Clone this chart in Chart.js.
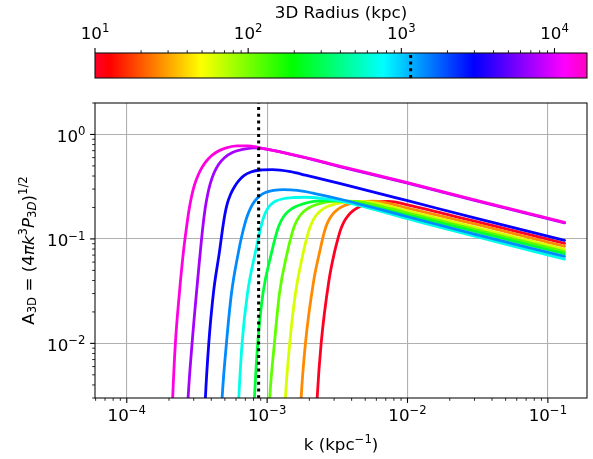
<!DOCTYPE html>
<html>
<head>
<meta charset="utf-8">
<script src="https://cdn.jsdelivr.net/npm/chart.js@4.4.1/dist/chart.umd.min.js"></script>
<style>
  html, body { margin: 0; padding: 0; background: #fff; }
  #wrap { position: relative; width: 593px; height: 459px; }
  #wrap canvas { position: absolute; left: 0; top: 0; }
</style>
</head>
<body>
<div id="wrap">
  <canvas id="spectra" width="593" height="459"></canvas>
  <canvas id="colorbar" width="593" height="100"></canvas>
</div>
<script>
// A_3D(k) for each 3D radius shell, smallest radius (red) to largest (magenta)
const shell1K  = [2.22e-3, 2.272e-3, 2.426e-3, 2.757e-3, 3.04e-3, 3.185e-3, 3.346e-3, 3.526e-3, 3.765e-3, 4.121e-3, 4.624e-3, 5.272e-3, 6.11e-3, 7.32e-3, 0.01, 0.02, 0.03, 0.1315];
const shell1A  = [0.0015, 0.003, 0.01, 0.04, 0.0776, 0.0991, 0.1236, 0.1459, 0.1665, 0.1872, 0.2054, 0.2195, 0.2275, 0.2285, 0.212, 0.169, 0.148, 0.0906];
const shell2K  = [1.708e-3, 1.747e-3, 1.875e-3, 2.148e-3, 2.38e-3, 2.498e-3, 2.624e-3, 2.771e-3, 2.944e-3, 3.17e-3, 3.497e-3, 3.99e-3, 4.7e-3, 5.632e-3, 6.97e-3, 0.01, 0.02, 0.03, 0.1315];
const shell2A  = [0.0015, 0.003, 0.01, 0.04, 0.0776, 0.1036, 0.1306, 0.1542, 0.174, 0.191, 0.2063, 0.2185, 0.2263, 0.2293, 0.2229, 0.197, 0.158, 0.139, 0.0848];
const shell3K  = [1.32e-3, 1.35e-3, 1.449e-3, 1.591e-3, 1.823e-3, 1.921e-3, 2.018e-3, 2.131e-3, 2.263e-3, 2.438e-3, 2.69e-3, 3.068e-3, 3.615e-3, 4.401e-3, 5.448e-3, 0.01, 0.02, 0.03, 0.1315];
const shell3A  = [0.0015, 0.003, 0.01, 0.03, 0.0776, 0.1036, 0.1292, 0.1524, 0.1721, 0.1888, 0.204, 0.2166, 0.2248, 0.2283, 0.2253, 0.186, 0.148, 0.13, 0.0794];
const shell4K  = [1.02e-3, 1.044e-3, 1.127e-3, 1.224e-3, 1.402e-3, 1.478e-3, 1.552e-3, 1.638e-3, 1.741e-3, 1.875e-3, 2.069e-3, 2.36e-3, 2.78e-3, 3.385e-3, 4.26e-3, 5.448e-3, 0.01, 0.03, 0.1315];
const shell4A  = [0.0015, 0.003, 0.01, 0.03, 0.0776, 0.1036, 0.1292, 0.1524, 0.1721, 0.1888, 0.204, 0.2175, 0.2274, 0.2314, 0.2283, 0.217, 0.177, 0.1235, 0.0755];
const shell5K  = [7.93e-4, 8.12e-4, 8.57e-4, 9.34e-4, 1.085e-3, 1.144e-3, 1.202e-3, 1.269e-3, 1.348e-3, 1.452e-3, 1.602e-3, 1.827e-3, 2.152e-3, 2.62e-3, 3.297e-3, 4.218e-3, 0.01, 0.03, 0.1315];
const shell5A  = [0.0015, 0.003, 0.01, 0.03, 0.0776, 0.1036, 0.1292, 0.1524, 0.1721, 0.1888, 0.204, 0.2181, 0.2283, 0.2329, 0.2309, 0.2214, 0.169, 0.118, 0.0721];
const shell6K  = [6.13e-4, 6.28e-4, 6.63e-4, 7.24e-4, 8.3e-4, 8.7e-4, 9.108e-4, 9.535e-4, 1.002e-3, 1.064e-3, 1.155e-3, 1.296e-3, 1.515e-3, 1.875e-3, 2.519e-3, 3.33e-3, 0.01, 0.03, 0.1315];
const shell6A  = [0.0015, 0.003, 0.01, 0.03, 0.0776, 0.1047, 0.1365, 0.1665, 0.1922, 0.2133, 0.2304, 0.2424, 0.2489, 0.2505, 0.2434, 0.2304, 0.156, 0.106, 0.064];
const shell7K  = [4.67e-4, 4.78e-4, 5.13e-4, 5.57e-4, 6.28e-4, 6.592e-4, 6.924e-4, 7.273e-4, 7.664e-4, 8.158e-4, 8.812e-4, 9.725e-4, 1.109e-3, 1.307e-3, 1.644e-3, 2.272e-3, 3.33e-3, 0.01, 0.03, 0.1315];
const shell7A  = [0.0015, 0.003, 0.01, 0.03, 0.0776, 0.1059, 0.138, 0.1702, 0.2009, 0.2304, 0.2572, 0.2779, 0.2911, 0.2963, 0.2911, 0.2689, 0.2397, 0.163, 0.111, 0.068];
const shell8K  = [3.56e-4, 3.633e-4, 3.84e-4, 4.14e-4, 4.59e-4, 4.8e-4, 5.003e-4, 5.212e-4, 5.474e-4, 5.8e-4, 6.243e-4, 6.834e-4, 7.664e-4, 8.958e-4, 1.091e-3, 1.466e-3, 1.875e-3, 3.33e-3, 0.01, 0.03, 0.1315];
const shell8A  = [0.0015, 0.003, 0.01, 0.03, 0.0776, 0.1209, 0.1721, 0.2195, 0.2648, 0.309, 0.3567, 0.4027, 0.4369, 0.4566, 0.4607, 0.4408, 0.4082, 0.3375, 0.232, 0.159, 0.0968];
const shell9K  = [2.67e-4, 2.735e-4, 2.92e-4, 3.35e-4, 3.487e-4, 3.621e-4, 3.766e-4, 3.944e-4, 4.175e-4, 4.495e-4, 4.963e-4, 5.658e-4, 6.668e-4, 8.027e-4, 1.727e-3, 3.33e-3, 0.01, 0.03, 0.1315];
const shell9A  = [0.0015, 0.003, 0.01, 0.0776, 0.132, 0.1965, 0.2648, 0.3413, 0.4256, 0.5134, 0.5991, 0.6721, 0.7178, 0.7436, 0.612, 0.49, 0.342, 0.234, 0.1425];
const shell10K = [2.086e-4, 2.124e-4, 2.22e-4, 2.37e-4, 2.54e-4, 2.66e-4, 2.771e-4, 2.887e-4, 3.033e-4, 3.21e-4, 3.458e-4, 3.816e-4, 4.314e-4, 5.044e-4, 6.09e-4, 7.298e-4, 8.71e-4, 1.727e-3, 3.33e-3, 0.01, 0.03, 0.1315];
const shell10A = [0.0015, 0.003, 0.01, 0.03, 0.0776, 0.1264, 0.1859, 0.2505, 0.3265, 0.4027, 0.4912, 0.5861, 0.6721, 0.7388, 0.7757, 0.7775, 0.7488, 0.616, 0.495, 0.345, 0.236, 0.144];

// marked scale: k = 1 / R
const markedRadius = 1150;   // kpc
const markedK = 8.7e-4;      // kpc^-1

// axis ranges
const kMin = 5.94e-5, kMax = 0.19;
const aMin = 0.003, aMax = 2.0;
const radiusMin = 10, radiusMax = 16300;

// tick labels
const kTickValues = [1e-4, 1e-3, 1e-2, 1e-1];
const kTickLabels = ['10^{−4}', '10^{−3}', '10^{−2}', '10^{−1}'];
const aTickValues = [1e-2, 1e-1, 1];
const aTickLabels = ['10^{−2}', '10^{−1}', '10^{0}'];
const radiusTickValues = [10, 100, 1000, 10000];
const radiusTickLabels = ['10^{1}', '10^{2}', '10^{3}', '10^{4}'];

const xTitle = 'k (kpc^{−1})';
const yTitle = 'A_{3D} = (4*πk*^{3}*P*_{3*D*})^{1/2}';
const cbTitle = '3D Radius (kpc)';

// ---- styling ----
const FONT = '"DejaVu Sans", sans-serif';
const FS = 16.7;
// gist_rainbow colour map
const rainbowStops = [
  [0.000, [255, 0, 41]], [0.030, [255, 0, 0]], [0.215, [255, 255, 0]],
  [0.400, [0, 255, 0]], [0.586, [0, 255, 255]], [0.770, [0, 0, 255]],
  [0.954, [255, 0, 255]], [1.000, [255, 0, 191]]
];
function rainbowAt(t) {
  for (let i = 1; i < rainbowStops.length; i++) {
    const [t1, c1] = rainbowStops[i];
    const [t0, c0] = rainbowStops[i - 1];
    if (t <= t1) {
      const f = (t - t0) / (t1 - t0);
      const c = c0.map((v, j) => Math.round(v + f * (c1[j] - v)));
      return `rgb(${c[0]},${c[1]},${c[2]})`;
    }
  }
  return 'rgb(255,0,191)';
}
const shellColourPos = [0.005, 0.13, 0.245, 0.33, 0.44, 0.57, 0.67, 0.775, 0.89, 0.975];

const shellK = [shell1K, shell2K, shell3K, shell4K, shell5K, shell6K, shell7K, shell8K, shell9K, shell10K];
const shellA = [shell1A, shell2A, shell3A, shell4A, shell5A, shell6A, shell7A, shell8A, shell9A, shell10A];

// ---- rich text (sub/superscripts, italics) ----
function parseRich(str) {
  const segs = []; let mode = 0, it = false, buf = '';
  const flush = () => { if (buf) segs.push({ t: buf, mode, it }); buf = ''; };
  for (let i = 0; i < str.length; i++) {
    const c = str[i];
    if ((c === '^' || c === '_') && str[i + 1] === '{') { flush(); mode = c === '^' ? 1 : -1; i++; }
    else if (c === '}') { flush(); mode = 0; }
    else if (c === '*') { flush(); it = !it; }
    else buf += c;
  }
  flush();
  return segs;
}
function segFont(seg, size) {
  const s = seg.mode ? size * 0.7 : size;
  return (seg.it ? 'italic ' : '') + s.toFixed(2) + 'px ' + FONT;
}
function drawRich(ctx, str, x, y, size, align) {
  const segs = parseRich(str);
  let w = 0;
  for (const s of segs) { ctx.font = segFont(s, size); w += ctx.measureText(s.t).width; }
  let cx = align === 'center' ? x - w / 2 : align === 'right' ? x - w : x;
  ctx.textAlign = 'left'; ctx.textBaseline = 'alphabetic'; ctx.fillStyle = '#000';
  for (const s of segs) {
    ctx.font = segFont(s, size);
    const dy = s.mode === 1 ? -0.40 * size : s.mode === -1 ? 0.17 * size : 0;
    ctx.fillText(s.t, cx, y + dy);
    cx += ctx.measureText(s.t).width;
  }
}
function minorValues(min, max) {
  const out = [];
  for (let e = Math.floor(Math.log10(min)); e <= Math.ceil(Math.log10(max)); e++) {
    for (let m = 2; m <= 9; m++) {
      const v = m * Math.pow(10, e);
      if (v >= min && v <= max) out.push(v);
    }
  }
  return out;
}
function line(ctx, x1, y1, x2, y2, w) {
  ctx.lineWidth = w; ctx.beginPath(); ctx.moveTo(x1, y1); ctx.lineTo(x2, y2); ctx.stroke();
}

// ---- spectra panel ----
const spectraDecor = {
  id: 'spectraDecor',
  afterDatasetsDraw(chart) {
    const { ctx, chartArea: a, scales: { x, y } } = chart;
    ctx.save();
    ctx.strokeStyle = '#000';
    for (const v of minorValues(x.min, x.max)) { const p = x.getPixelForValue(v); line(ctx, p, a.bottom, p, a.bottom + 2.8, 0.85); }
    for (const v of kTickValues) { const p = x.getPixelForValue(v); line(ctx, p, a.bottom, p, a.bottom + 4.9, 1.1); }
    for (const v of minorValues(y.min, y.max)) { const p = y.getPixelForValue(v); line(ctx, a.left, p, a.left - 2.8, p, 0.85); }
    for (const v of aTickValues) { const p = y.getPixelForValue(v); line(ctx, a.left, p, a.left - 4.9, p, 1.1); }
    ctx.strokeStyle = '#111';
    ctx.lineWidth = 1.1;
    ctx.strokeRect(a.left, a.top, a.right - a.left, a.bottom - a.top);

    kTickValues.forEach((v, i) => drawRich(ctx, kTickLabels[i], x.getPixelForValue(v), a.bottom + 23, FS, 'center'));
    aTickValues.forEach((v, i) => drawRich(ctx, aTickLabels[i], a.left - 9.5, y.getPixelForValue(v) + 7.4, FS, 'right'));

    drawRich(ctx, xTitle, (a.left + a.right) / 2, 450, FS, 'center');
    ctx.translate(33.5, (a.top + a.bottom) / 2);
    ctx.rotate(-Math.PI / 2);
    drawRich(ctx, yTitle, 0, 0, FS, 'center');
    ctx.restore();
  }
};

const datasets = shellK.map((ks, i) => ({
  data: ks.map((k, j) => ({ x: k, y: shellA[i][j] })),
  borderColor: rainbowAt(shellColourPos[i]),
  borderWidth: 2.8,
  borderCapStyle: 'round',
  borderJoinStyle: 'round',
  cubicInterpolationMode: 'monotone',
  pointRadius: 0,
  clip: 0,
  order: 11 - i
}));
datasets.push({
  data: [{ x: markedK, y: 1e-4 }, { x: markedK, y: 10 }],
  borderColor: '#000',
  borderWidth: 3,
  borderDash: [3, 3.7],
  pointRadius: 0,
  clip: 0,
  order: 0
});

new Chart(document.getElementById('spectra'), {
  type: 'line',
  data: { datasets },
  options: {
    responsive: false,
    maintainAspectRatio: false,
    animation: false,
    devicePixelRatio: 1,
    layout: { padding: { top: 103, right: 6, left: 0, bottom: 0 } },
    plugins: { legend: { display: false }, tooltip: { enabled: false } },
    scales: {
      x: {
        type: 'logarithmic', min: kMin, max: kMax,
        afterBuildTicks: s => { s.ticks = kTickValues.map(v => ({ value: v })); },
        afterFit: s => { s.height = 61; },
        ticks: { display: false },
        grid: { color: '#b0b0b0', lineWidth: 1.1, drawTicks: false },
        border: { display: false }
      },
      y: {
        type: 'logarithmic', min: aMin, max: aMax,
        afterBuildTicks: s => { s.ticks = aTickValues.map(v => ({ value: v })); },
        afterFit: s => { s.width = 95; },
        ticks: { display: false },
        grid: { color: '#b0b0b0', lineWidth: 1.1, drawTicks: false },
        border: { display: false }
      }
    }
  },
  plugins: [spectraDecor]
});

// ---- colour bar ----
const colorbarDecor = {
  id: 'colorbarDecor',
  beforeDatasetsDraw(chart) {
    const { ctx, chartArea: a } = chart;
    const g = ctx.createLinearGradient(a.left, 0, a.right, 0);
    rainbowStops.forEach(([t, c]) => g.addColorStop(t, `rgb(${c[0]},${c[1]},${c[2]})`));
    ctx.save();
    ctx.fillStyle = g;
    ctx.fillRect(a.left, a.top, a.right - a.left, a.bottom - a.top);
    ctx.restore();
  },
  afterDatasetsDraw(chart) {
    const { ctx, chartArea: a, scales: { x } } = chart;
    ctx.save();
    ctx.strokeStyle = '#111';
    ctx.lineWidth = 1.1;
    ctx.strokeRect(a.left, a.top, a.right - a.left, a.bottom - a.top);
    ctx.strokeStyle = '#000';
    for (const v of minorValues(x.min, x.max)) { const p = x.getPixelForValue(v); line(ctx, p, a.top, p, a.top - 2.8, 0.85); }
    for (const v of radiusTickValues) { const p = x.getPixelForValue(v); line(ctx, p, a.top, p, a.top - 4.9, 1.1); }
    radiusTickValues.forEach((v, i) => drawRich(ctx, radiusTickLabels[i], x.getPixelForValue(v), 38.8, FS, 'center'));
    drawRich(ctx, cbTitle, (a.left + a.right) / 2, 18, FS, 'center');
    ctx.restore();
  }
};

new Chart(document.getElementById('colorbar'), {
  type: 'line',
  data: {
    datasets: [{
      data: [{ x: markedRadius, y: 0 }, { x: markedRadius, y: 1 }],
      borderColor: '#000',
      borderWidth: 3,
      borderDash: [3, 3.7],
      pointRadius: 0,
      clip: 0
    }]
  },
  options: {
    responsive: false,
    maintainAspectRatio: false,
    animation: false,
    devicePixelRatio: 1,
    layout: { padding: { left: 95, right: 6, top: 53, bottom: 22 } },
    plugins: { legend: { display: false }, tooltip: { enabled: false } },
    scales: {
      x: { type: 'logarithmic', min: radiusMin, max: radiusMax, display: false },
      y: { type: 'linear', min: 0, max: 1, display: false }
    }
  },
  plugins: [colorbarDecor]
});
</script>
</body>
</html>
